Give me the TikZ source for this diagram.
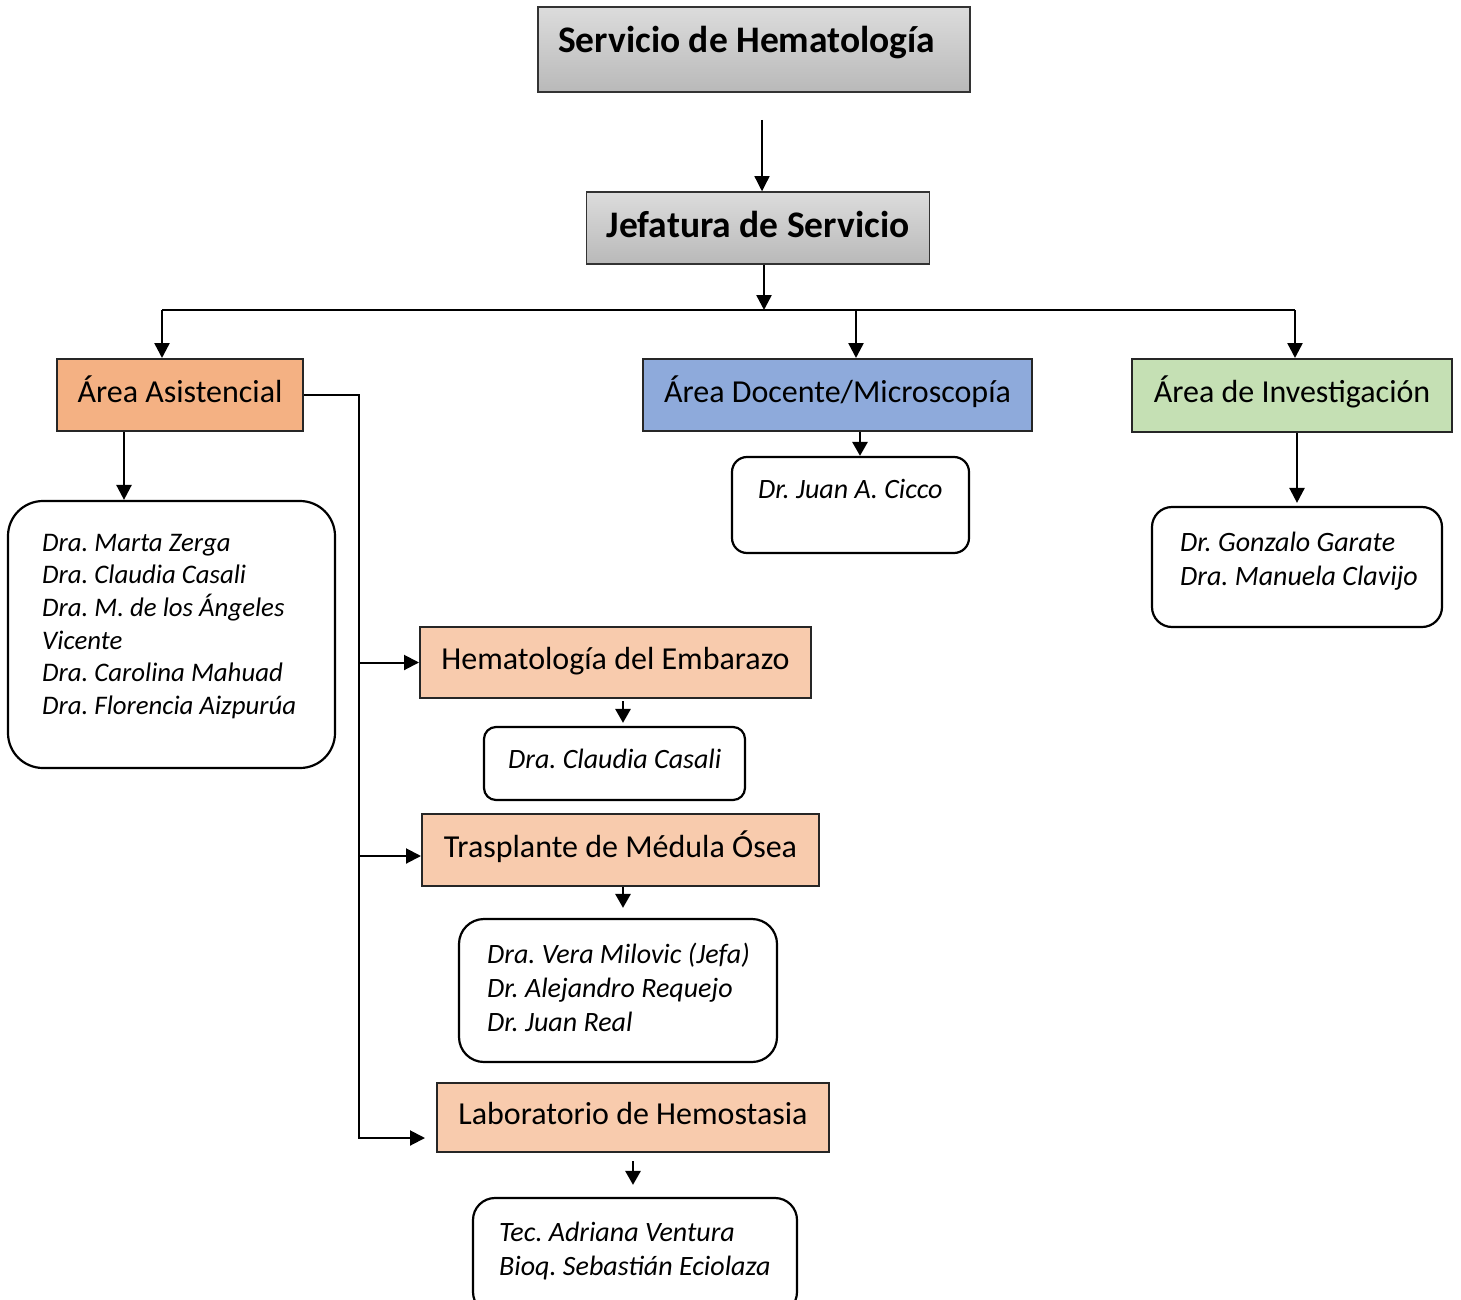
\documentclass[tikz,border=0pt]{standalone}
\usepackage{fontspec}
\setmainfont{Carlito}
\usetikzlibrary{arrows.meta}
\frenchspacing
\definecolor{grtop}{HTML}{DCDCDC}
\definecolor{grbot}{HTML}{B9B9B9}
\definecolor{asisfill}{HTML}{F4B183}
\definecolor{subfill}{HTML}{F8CBAD}
\definecolor{docfill}{HTML}{8EAADB}
\definecolor{invfill}{HTML}{C5E0B4}
\begin{document}
\begin{tikzpicture}[x=1pt,y=-1pt,
    graybox/.style={draw=black!80,line width=1.5pt,top color=grtop,bottom color=grbot,inner sep=0pt},
    bigbold/.style={font=\fontsize{37.5}{44}\selectfont\bfseries,text height=26pt,text depth=8pt},
    areabox/.style={draw=black!85,line width=2pt,inner sep=0pt,font=\fontsize{32}{38}\selectfont,text height=22pt,text depth=8pt},
    namebox/.style={draw,line width=2.2pt,rounded corners=#1,inner sep=0pt},
    names/.style={anchor=base west,align=left,inner sep=0pt,font=\fontsize{28}{34}\selectfont\itshape},
    arr/.style={line width=2.5pt,-{Triangle[length=15pt,width=15pt]}},
    smallarr/.style={line width=2.8pt,-{Triangle[length=14pt,width=15pt]}},
    thinarr/.style={line width=1.3pt,-{Triangle[length=15pt,width=15pt]}}]
    \useasboundingbox (0,0) rectangle (1461,1300);
    \node (hem) [graybox,minimum width=432pt,minimum height=85pt] at (754,49.5) {};
    \node (hemtext) [bigbold,anchor=base west,inner sep=0pt] at (558,53) {Servicio de Hematología};
    \node (jef) [graybox,bigbold,minimum width=343pt,minimum height=72pt] at (758,228) {Jefatura de Servicio};
    \node (asis) [areabox,fill=asisfill,minimum width=246pt,minimum height=72pt] at (180,395) {Área Asistencial};
    \node (doc) [areabox,fill=docfill,minimum width=389pt,minimum height=72pt] at (837.5,395) {Área Docente/Microscopía};
    \node (inv) [areabox,fill=invfill,minimum width=320pt,minimum height=73pt] at (1292,395.5) {Área de Investigación};
    \node (emb) [areabox,fill=subfill,minimum width=391pt,minimum height=71pt] at (615.5,662.5) {Hematología del Embarazo};
    \node (tmo) [areabox,fill=subfill,minimum width=397pt,minimum height=72pt] at (620.5,850) {Trasplante de Médula Ósea};
    \node (lab) [areabox,fill=subfill,minimum width=392pt,minimum height=69pt] at (633,1117.5) {Laboratorio de Hemostasia};
    % personal (base = ultima linea)
    \node (asisnames) [namebox=35pt,minimum width=327pt,minimum height=267pt] at (171.5,634.5) {};
    \node (asistext) [names,font=\fontsize{26.8}{32.7}\selectfont\itshape] at (42,714.5) {Dra. Marta Zerga\\Dra. Claudia Casali\\Dra. M. de los Ángeles\\Vicente\\Dra. Carolina Mahuad\\Dra. Florencia Aizpurúa};
    \node (cicco) [namebox=15pt,minimum width=237pt,minimum height=96pt] at (850.5,505) {};
    \node (ciccotext) [names] at (758,498) {Dr. Juan A. Cicco};
    \node (garate) [namebox=20pt,minimum width=290pt,minimum height=120pt] at (1297,567) {};
    \node (garatetext) [names] at (1180,585) {Dr. Gonzalo Garate\\Dra. Manuela Clavijo};
    \node (casali) [namebox=12pt,minimum width=261pt,minimum height=73pt] at (614.5,763.5) {};
    \node (casalitext) [names] at (508,768) {Dra. Claudia Casali};
    \node (tmonames) [namebox=25pt,minimum width=318pt,minimum height=143pt] at (618,990.5) {};
    \node (tmotext) [names] at (487,1031) {Dra. Vera Milovic (Jefa)\\Dr. Alejandro Requejo\\Dr. Juan Real};
    \node (labnames) [namebox=22pt,minimum width=324pt,minimum height=116pt] at (635,1256) {};
    \node (labtext) [names] at (499,1275) {Tec. Adriana Ventura\\Bioq. Sebastián Eciolaza};
    % conectores
    \coordinate (hemout) at (762,120);
    \coordinate (busL) at (162,310);
    \coordinate (busD) at (856,310);
    \coordinate (busR) at (1295,310);
    \coordinate (spine) at (359,1138);
    \coordinate (labin) at (425,1138);
    \draw[thinarr] (hemout) -- (hemout |- jef.north);
    \draw[arr] ([xshift=6pt]jef.south) -- ([xshift=6pt]jef.south |- busL);
    \draw[line width=2.5pt] (busL) -- (busR);
    \draw[arr] (busL) -- (busL |- asis.north);
    \draw[arr] (busD) -- (busD |- doc.north);
    \draw[arr] (busR) -- (busR |- inv.north);
    \draw[arr] ([xshift=-56pt]asis.south) -- ([xshift=-56pt]asis.south |- asisnames.north);
    \draw[smallarr] ([xshift=22.5pt]doc.south) -- ([xshift=22.5pt]doc.south |- cicco.north);
    \draw[arr] (inv.south -| garate.north) -- ([yshift=3pt]garate.north);
    \draw[arr,line width=2pt] (asis.east) -| (spine) -- (labin);
    \draw[arr,line width=2pt] (spine |- emb.west) -- (emb.west);
    \draw[arr,line width=2pt] ([yshift=-6pt]tmo.west -| spine) -- ([yshift=-6pt]tmo.west);
    \draw[smallarr,shorten <=2pt,shorten >=3pt] ([xshift=7.5pt]emb.south) -- ([xshift=7.5pt]emb.south |- casali.north);
    \draw[smallarr,shorten >=10pt] ([xshift=2.5pt]tmo.south) -- ([xshift=2.5pt]tmo.south |- tmonames.north);
    \draw[smallarr,shorten <=8pt,shorten >=12pt] (lab.south) -- (lab.south |- labnames.north);
\end{tikzpicture}
\end{document}
